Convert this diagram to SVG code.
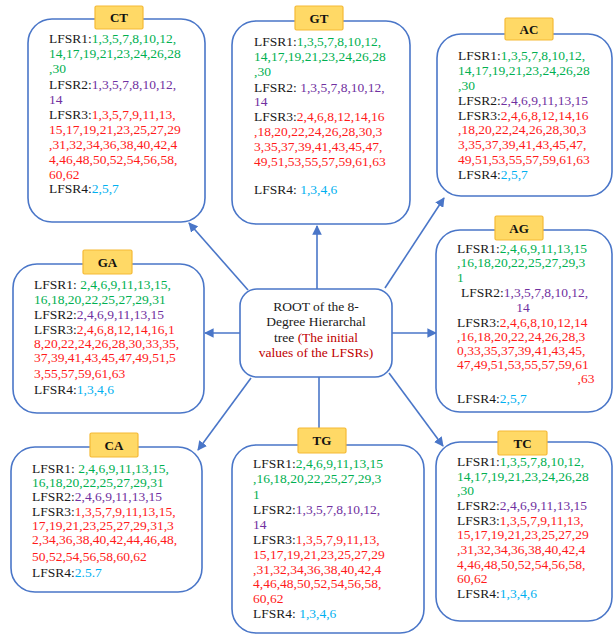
<svg xmlns="http://www.w3.org/2000/svg" width="613" height="636" viewBox="0 0 613 636">
  <style>
    .box { fill: #ffffff; stroke: #4a76c8; stroke-width: 1.6; }
    .tag { fill: #ffd966; stroke: #f5b935; stroke-width: 1.2; }
    .tagt { font-family: "Liberation Serif", "Times New Roman", serif; font-size: 13px; font-weight: bold; fill: #111; text-anchor: middle; }
    .t { font-family: "Liberation Serif", "Times New Roman", serif; font-size: 13.5px; fill: #1a1a1a; }
    .k { fill: #1a1a1a; }
    .g { fill: #00b050; }
    .p { fill: #7030a0; }
    .r { fill: #ff1a1a; }
    .c { fill: #00b0f0; }
    .dr { fill: #c00000; }
    .link { stroke: #4a76c8; stroke-width: 1.6; fill: none; marker-end: url(#head); }
  </style>
  <defs>
    <marker id="head" viewBox="0 0 10 10" refX="9" refY="5" markerWidth="6" markerHeight="6" markerUnits="strokeWidth" orient="auto">
      <path d="M0,0 L10,5 L0,10 z" fill="#4a76c8"/>
    </marker>
  </defs>

  <rect width="613" height="636" fill="#ffffff"/>

  <!-- connectors from the root to each child -->
  <g id="connectors">
    <line class="link" x1="317" y1="289" x2="317" y2="226"/>
    <line class="link" x1="248" y1="290" x2="189" y2="223"/>
    <line class="link" x1="385" y1="288" x2="444" y2="198"/>
    <line class="link" x1="240" y1="333" x2="205" y2="333"/>
    <line class="link" x1="392" y1="333" x2="436" y2="333"/>
    <line class="link" x1="251" y1="378" x2="198" y2="450"/>
    <line class="link" x1="319" y1="377" x2="319" y2="444"/>
    <line class="link" x1="389" y1="373" x2="443" y2="446"/>
  </g>

  <!-- root -->
  <g id="root">
    <rect class="box" x="240" y="289" width="152" height="88" rx="17"/>
    <text class="t" x="316" y="310.5" text-anchor="middle">ROOT of the 8-</text>
    <text class="t" x="316" y="326" text-anchor="middle">Degree Hierarchal</text>
    <text class="t" x="316" y="341.5" text-anchor="middle">tree <tspan class="dr">(The initial</tspan></text>
    <text class="t dr" x="316" y="357" text-anchor="middle">values of the LFSRs)</text>
  </g>

  <!-- CT -->
  <g id="node-ct">
    <rect class="box" x="28" y="19" width="177" height="203" rx="24"/>
    <rect class="tag" x="95" y="6" width="48" height="23" rx="1.5"/>
    <text class="tagt" x="119" y="22">CT</text>
    <text class="t" x="49" y="43"><tspan class="k">LFSR1:</tspan><tspan class="g">1,3,5,7,8,10,12,</tspan></text>
    <text class="t g" x="49" y="58">14,17,19,21,23,24,26,28</text>
    <text class="t g" x="49" y="73">,30</text>
    <text class="t" x="49" y="88.5"><tspan class="k">LFSR2:</tspan><tspan class="p">1,3,5,7,8,10,12,</tspan></text>
    <text class="t p" x="49" y="103.5">14</text>
    <text class="t" x="49" y="119"><tspan class="k">LFSR3:</tspan><tspan class="r">1,3,5,7,9,11,13,</tspan></text>
    <text class="t r" x="49" y="134">15,17,19,21,23,25,27,29</text>
    <text class="t r" x="49" y="149">,31,32,34,36,38,40,42,4</text>
    <text class="t r" x="49" y="164">4,46,48,50,52,54,56,58,</text>
    <text class="t r" x="49" y="178.5">60,62</text>
    <text class="t" x="49" y="193"><tspan class="k">LFSR4:</tspan><tspan class="c">2,5,7</tspan></text>
  </g>

  <!-- GT -->
  <g id="node-gt">
    <rect class="box" x="232" y="21" width="178" height="203" rx="24"/>
    <rect class="tag" x="295" y="6" width="48" height="24" rx="1.5"/>
    <text class="tagt" x="319" y="22.5">GT</text>
    <text class="t" x="254" y="46"><tspan class="k">LFSR1:</tspan><tspan class="g">1,3,5,7,8,10,12,</tspan></text>
    <text class="t g" x="254" y="61">14,17,19,21,23,24,26,28</text>
    <text class="t g" x="254" y="75.5">,30</text>
    <text class="t" x="254" y="91.5"><tspan class="k">LFSR2: </tspan><tspan class="p">1,3,5,7,8,10,12,</tspan></text>
    <text class="t p" x="254" y="106">14</text>
    <text class="t" x="254" y="121"><tspan class="k">LFSR3:</tspan><tspan class="r">2,4,6,8,12,14,16</tspan></text>
    <text class="t r" x="254" y="135.5">,18,20,22,24,26,28,30,3</text>
    <text class="t r" x="254" y="151">3,35,37,39,41,43,45,47,</text>
    <text class="t r" x="254" y="166">49,51,53,55,57,59,61,63</text>
    <text class="t" x="254" y="194"><tspan class="k">LFSR4: </tspan><tspan class="c">1,3,4,6</tspan></text>
  </g>

  <!-- AC -->
  <g id="node-ac">
    <rect class="box" x="437" y="34" width="175" height="162" rx="24"/>
    <rect class="tag" x="505" y="18" width="48" height="22" rx="1.5"/>
    <text class="tagt" x="529" y="33.5">AC</text>
    <text class="t" x="458" y="59.5"><tspan class="k">LFSR1:</tspan><tspan class="g">1,3,5,7,8,10,12,</tspan></text>
    <text class="t g" x="458" y="74.5">14,17,19,21,23,24,26,28</text>
    <text class="t g" x="458" y="89.5">,30</text>
    <text class="t" x="458" y="104.5"><tspan class="k">LFSR2:</tspan><tspan class="p">2,4,6,9,11,13,15</tspan></text>
    <text class="t" x="458" y="119.5"><tspan class="k">LFSR3:</tspan><tspan class="r">2,4,6,8,12,14,16</tspan></text>
    <text class="t r" x="458" y="134">,18,20,22,24,26,28,30,3</text>
    <text class="t r" x="458" y="149">3,35,37,39,41,43,45,47,</text>
    <text class="t r" x="458" y="164">49,51,53,55,57,59,61,63</text>
    <text class="t" x="458" y="179"><tspan class="k">LFSR4:</tspan><tspan class="c">2,5,7</tspan></text>
  </g>

  <!-- AG -->
  <g id="node-ag">
    <rect class="box" x="436" y="230" width="176" height="182" rx="24"/>
    <rect class="tag" x="495" y="216" width="48" height="24" rx="1.5"/>
    <text class="tagt" x="519" y="232.5">AG</text>
    <text class="t" x="457" y="252.5"><tspan class="k">LFSR1:</tspan><tspan class="g">2,4,6,9,11,13,15</tspan></text>
    <text class="t g" x="457" y="267">,16,18,20,22,25,27,29,3</text>
    <text class="t g" x="457" y="281.5">1</text>
    <text class="t" x="461" y="296.5"><tspan class="k">LFSR2:</tspan><tspan class="p">1,3,5,7,8,10,12,</tspan></text>
    <text class="t p" x="523" y="311.5" text-anchor="middle">14</text>
    <text class="t" x="457" y="326.5"><tspan class="k">LFSR3:</tspan><tspan class="r">2,4,6,8,10,12,14</tspan></text>
    <text class="t r" x="457" y="341">,16,18,20,22,24,26,28,3</text>
    <text class="t r" x="457" y="355">0,33,35,37,39,41,43,45,</text>
    <text class="t r" x="457" y="369">47,49,51,53,55,57,59,61</text>
    <text class="t r" x="586" y="383" text-anchor="middle">,63</text>
    <text class="t" x="457" y="402.5"><tspan class="k">LFSR4:</tspan><tspan class="c">2,5,7</tspan></text>
  </g>

  <!-- GA -->
  <g id="node-ga">
    <rect class="box" x="13" y="264" width="191" height="149" rx="24"/>
    <rect class="tag" x="83" y="250" width="49" height="24" rx="1.5"/>
    <text class="tagt" x="107.5" y="266.5">GA</text>
    <text class="t" x="34" y="288.5"><tspan class="k">LFSR1: </tspan><tspan class="g">2,4,6,9,11,13,15,</tspan></text>
    <text class="t g" x="34" y="304">16,18,20,22,25,27,29,31</text>
    <text class="t" x="34" y="318.5"><tspan class="k">LFSR2:</tspan><tspan class="p">2,4,6,9,11,13,15</tspan></text>
    <text class="t" x="34" y="334"><tspan class="k">LFSR3:</tspan><tspan class="r">2,4,6,8,12,14,16,1</tspan></text>
    <text class="t r" x="34" y="348">8,20,22,24,26,28,30,33,35,</text>
    <text class="t r" x="34" y="362">37,39,41,43,45,47,49,51,5</text>
    <text class="t r" x="34" y="378">3,55,57,59,61,63</text>
    <text class="t" x="34" y="394"><tspan class="k">LFSR4:</tspan><tspan class="c">1,3,4,6</tspan></text>
  </g>

  <!-- CA -->
  <g id="node-ca">
    <rect class="box" x="11" y="447" width="191" height="145" rx="24"/>
    <rect class="tag" x="90" y="433" width="48" height="24" rx="1.5"/>
    <text class="tagt" x="114" y="449.5">CA</text>
    <text class="t" x="32" y="472.5"><tspan class="k">LFSR1: </tspan><tspan class="g">2,4,6,9,11,13,15,</tspan></text>
    <text class="t g" x="32" y="487">16,18,20,22,25,27,29,31</text>
    <text class="t" x="32" y="501"><tspan class="k">LFSR2:</tspan><tspan class="p">2,4,6,9,11,13,15</tspan></text>
    <text class="t" x="32" y="515.5"><tspan class="k">LFSR3:</tspan><tspan class="r">1,3,5,7,9,11,13,15,</tspan></text>
    <text class="t r" x="32" y="529.5">17,19,21,23,25,27,29,31,3</text>
    <text class="t r" x="32" y="544">2,34,36,38,40,42,44,46,48,</text>
    <text class="t r" x="32" y="560.5">50,52,54,56,58,60,62</text>
    <text class="t" x="32" y="577"><tspan class="k">LFSR4:</tspan><tspan class="c">2.5.7</tspan></text>
  </g>

  <!-- TG -->
  <g id="node-tg">
    <rect class="box" x="232" y="445" width="192" height="188" rx="24"/>
    <rect class="tag" x="298" y="428" width="48" height="25" rx="1.5"/>
    <text class="tagt" x="322" y="445">TG</text>
    <text class="t" x="253" y="467.5"><tspan class="k">LFSR1:</tspan><tspan class="g">2,4,6,9,11,13,15</tspan></text>
    <text class="t g" x="253" y="483">,16,18,20,22,25,27,29,3</text>
    <text class="t g" x="253" y="498.5">1</text>
    <text class="t" x="253" y="513.5"><tspan class="k">LFSR2:</tspan><tspan class="p">1,3,5,7,8,10,12,</tspan></text>
    <text class="t p" x="253" y="529">14</text>
    <text class="t" x="253" y="543.5"><tspan class="k">LFSR3:</tspan><tspan class="r">1,3,5,7,9,11,13,</tspan></text>
    <text class="t r" x="253" y="558.5">15,17,19,21,23,25,27,29</text>
    <text class="t r" x="253" y="573.5">,31,32,34,36,38,40,42,4</text>
    <text class="t r" x="253" y="588">4,46,48,50,52,54,56,58,</text>
    <text class="t r" x="253" y="603">60,62</text>
    <text class="t" x="253" y="617.5"><tspan class="k">LFSR4: </tspan><tspan class="c">1,3,4,6</tspan></text>
  </g>

  <!-- TC -->
  <g id="node-tc">
    <rect class="box" x="436" y="442" width="176" height="179" rx="24"/>
    <rect class="tag" x="498" y="431" width="49" height="24" rx="1.5"/>
    <text class="tagt" x="522.5" y="447.5">TC</text>
    <text class="t" x="457" y="466"><tspan class="k">LFSR1:</tspan><tspan class="g">1,3,5,7,8,10,12,</tspan></text>
    <text class="t g" x="457" y="480.5">14,17,19,21,23,24,26,28</text>
    <text class="t g" x="457" y="495">,30</text>
    <text class="t" x="457" y="510"><tspan class="k">LFSR2:</tspan><tspan class="p">2,4,6,9,11,13,15</tspan></text>
    <text class="t" x="457" y="524.5"><tspan class="k">LFSR3:</tspan><tspan class="r">1,3,5,7,9,11,13,</tspan></text>
    <text class="t r" x="457" y="539">15,17,19,21,23,25,27,29</text>
    <text class="t r" x="457" y="554">,31,32,34,36,38,40,42,4</text>
    <text class="t r" x="457" y="568.5">4,46,48,50,52,54,56,58,</text>
    <text class="t r" x="457" y="583">60,62</text>
    <text class="t" x="457" y="598"><tspan class="k">LFSR4:</tspan><tspan class="c">1,3,4,6</tspan></text>
  </g>
</svg>
